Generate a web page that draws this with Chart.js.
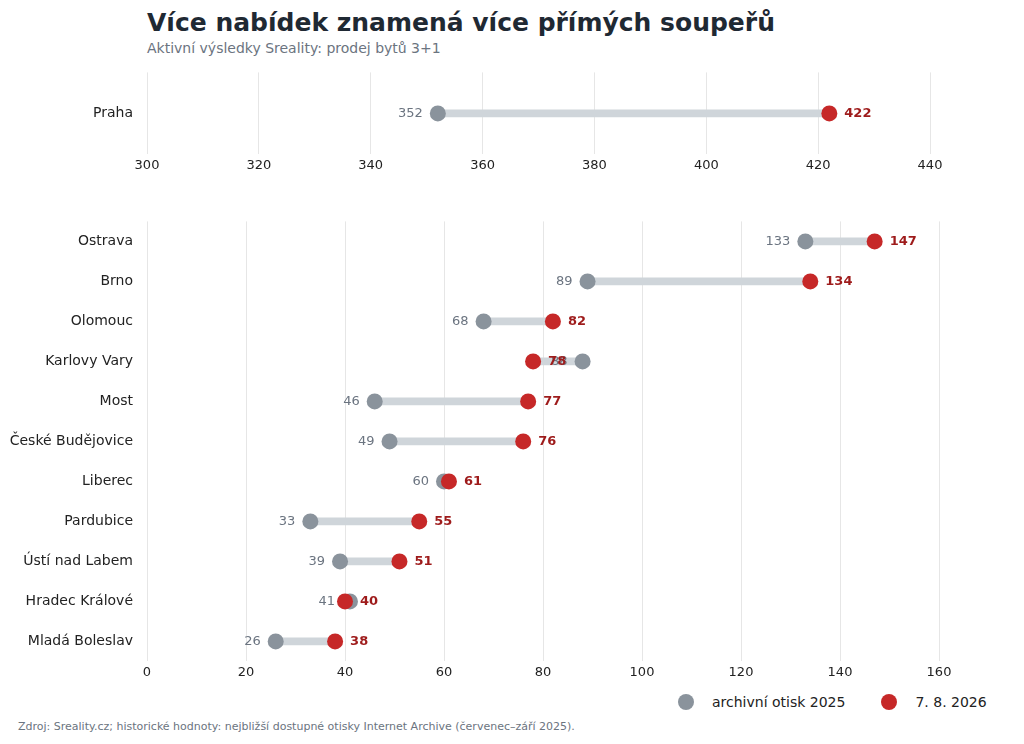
<!DOCTYPE html>
<html><head><meta charset="utf-8">
<script src="https://cdn.jsdelivr.net/npm/chart.js@4"></script>
<style>
body{margin:0;width:1024px;height:744px;background:#fff;font-family:"DejaVu Sans",sans-serif;position:relative;overflow:hidden}
#t{position:absolute;left:147px;top:8px;font-size:25px;font-weight:bold;color:#1f2933}
#s{position:absolute;left:147px;top:40px;font-size:14px;color:#6b7480}
#src{position:absolute;left:18px;top:720px;font-size:11px;color:#6b7480}
#lg{position:absolute;left:678px;top:694px;font-size:14px;color:#222;display:flex;align-items:center}
.d{width:16px;height:16px;border-radius:50%;display:inline-block;margin-right:18px}
canvas{position:absolute}
</style></head><body>
<div id="t">Více nabídek znamená více přímých soupeřů</div>
<div id="s">Aktivní výsledky Sreality: prodej bytů 3+1</div>
<div style="position:absolute;left:0;top:58px;width:950px;height:118px"><canvas id="c1"></canvas></div>
<div style="position:absolute;left:0;top:207px;width:960px;height:476px"><canvas id="c2"></canvas></div>
<div id="lg"><span class="d" style="background:#8a939c"></span>archivní otisk 2025<span class="d" style="background:#c62828;margin-left:36px"></span>7. 8. 2026</div>
<div id="src">Zdroj: Sreality.cz; historické hodnoty: nejbližší dostupné otisky Internet Archive (červenec–září 2025).</div>
<script>
const topCities=["Praha"], topOld=[352], topNew=[422];
const cities=["Ostrava","Brno","Olomouc","Karlovy Vary","Most","České Budějovice","Liberec","Pardubice","Ústí nad Labem","Hradec Králové","Mladá Boleslav"];
const oldVals=[133,89,68,88,46,49,60,33,39,41,26];
const newVals=[147,134,82,78,77,76,61,55,51,40,38];
const labelsPlugin={id:'lbl',afterDatasetsDraw(ch){const c=ch.ctx,x=ch.scales.x,y=ch.scales.y,o=ch.data.datasets[1].data,n=ch.data.datasets[2].data;
c.save();c.textBaseline='middle';
o.forEach((p,i)=>{const yy=y.getPixelForValue(i);c.font='13px "DejaVu Sans"';c.fillStyle='#6b7480';c.textAlign='right';c.fillText(p.x,x.getPixelForValue(p.x)-15,yy);
c.font='bold 13px "DejaVu Sans"';c.fillStyle='#9e1b1b';c.textAlign='left';c.fillText(n[i].x,x.getPixelForValue(n[i].x)+15,yy);});c.restore();}};
function mk(id,cats,ov,nv,min,max,step,padR){
new Chart(document.getElementById(id),{type:'bar',data:{labels:cats,datasets:[
{data:cats.map((c,i)=>[ov[i],nv[i]]),backgroundColor:'#cfd5da',barThickness:7,order:3},
{type:'line',showLine:false,data:cats.map((c,i)=>({x:ov[i],y:c})),pointRadius:8,pointHoverRadius:8,pointBackgroundColor:'#8a939c',pointBorderWidth:0,order:2},
{type:'line',showLine:false,data:cats.map((c,i)=>({x:nv[i],y:c})),pointRadius:8,pointHoverRadius:8,pointBackgroundColor:'#c62828',pointBorderWidth:0,order:1}]},
options:{indexAxis:'y',responsive:true,maintainAspectRatio:false,animation:false,layout:{padding:{right:padR,top:0,bottom:0}},
plugins:{legend:{display:false},tooltip:{enabled:false}},
scales:{x:{min,max,ticks:{stepSize:step,color:'#222',font:{size:13,family:'DejaVu Sans'}},grid:{color:'#e6e6e6',drawTicks:false},border:{display:false}},
y:{afterFit(s){s.width=147},ticks:{color:'#222',font:{size:14,family:'DejaVu Sans'},padding:6},grid:{display:false},border:{display:false}}}},plugins:[labelsPlugin]});}
mk('c1',topCities,topOld,topNew,300,440,20,20);
mk('c2',cities,oldVals,newVals,0,160,20,21);
</script></body></html>
